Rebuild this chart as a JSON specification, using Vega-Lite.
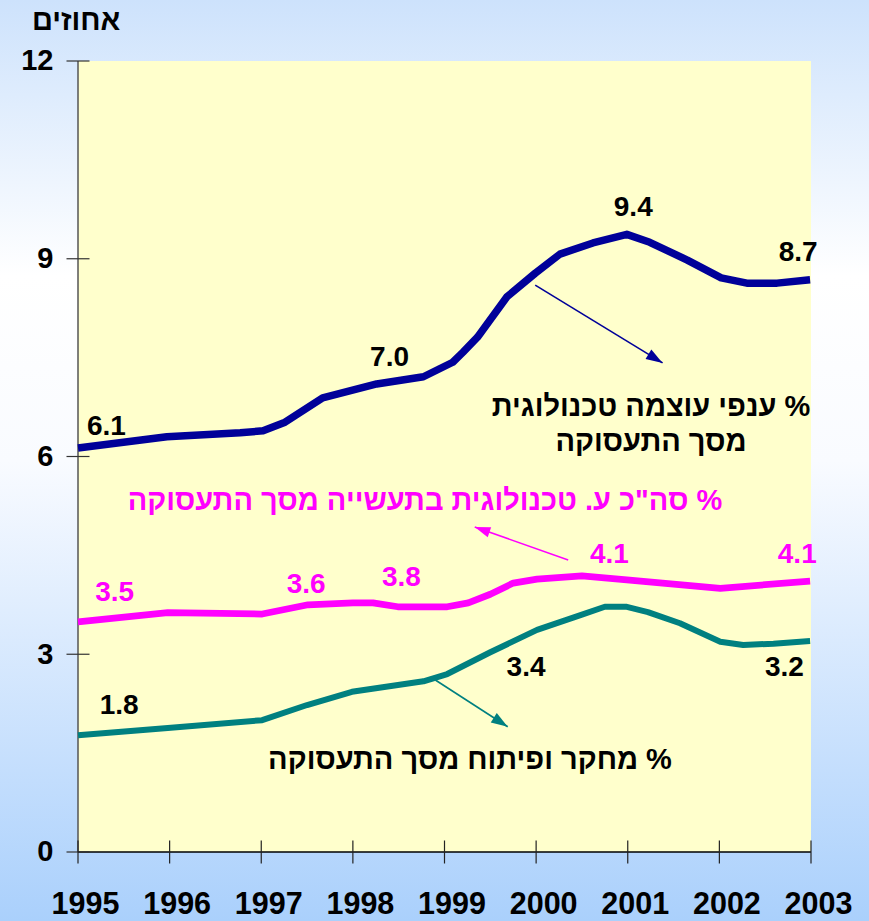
{
  "$schema": "https://vega.github.io/schema/vega-lite/v6.json",
  "width": 869,
  "height": 921,
  "autosize": "none",
  "padding": 0,
  "background": "#e6effd",
  "config": {"view": {"stroke": null}, "font": "Liberation Sans"},
  "datasets": {
    "one": [{"k": 1}],
    "series": [
      {"s": "tech", "x": 1995.00, "y": 6.13},
      {"s": "tech", "x": 1995.97, "y": 6.30},
      {"s": "tech", "x": 1996.77, "y": 6.36},
      {"s": "tech", "x": 1997.02, "y": 6.39},
      {"s": "tech", "x": 1997.26, "y": 6.52},
      {"s": "tech", "x": 1997.67, "y": 6.89},
      {"s": "tech", "x": 1998.26, "y": 7.10},
      {"s": "tech", "x": 1998.77, "y": 7.21},
      {"s": "tech", "x": 1999.09, "y": 7.43},
      {"s": "tech", "x": 1999.20, "y": 7.58},
      {"s": "tech", "x": 1999.36, "y": 7.81},
      {"s": "tech", "x": 1999.68, "y": 8.42},
      {"s": "tech", "x": 1999.99, "y": 8.78},
      {"s": "tech", "x": 2000.26, "y": 9.07},
      {"s": "tech", "x": 2000.62, "y": 9.24},
      {"s": "tech", "x": 2000.99, "y": 9.37},
      {"s": "tech", "x": 2001.24, "y": 9.25},
      {"s": "tech", "x": 2001.65, "y": 8.98},
      {"s": "tech", "x": 2002.02, "y": 8.71},
      {"s": "tech", "x": 2002.30, "y": 8.63},
      {"s": "tech", "x": 2002.63, "y": 8.63},
      {"s": "tech", "x": 2002.99, "y": 8.68},
      {"s": "total", "x": 1995.00, "y": 3.49},
      {"s": "total", "x": 1995.98, "y": 3.63},
      {"s": "total", "x": 1997.01, "y": 3.61},
      {"s": "total", "x": 1997.51, "y": 3.75},
      {"s": "total", "x": 1998.00, "y": 3.78},
      {"s": "total", "x": 1998.22, "y": 3.78},
      {"s": "total", "x": 1998.49, "y": 3.72},
      {"s": "total", "x": 1999.03, "y": 3.72},
      {"s": "total", "x": 1999.26, "y": 3.78},
      {"s": "total", "x": 1999.50, "y": 3.91},
      {"s": "total", "x": 1999.75, "y": 4.08},
      {"s": "total", "x": 2000.01, "y": 4.14},
      {"s": "total", "x": 2000.50, "y": 4.19},
      {"s": "total", "x": 2000.99, "y": 4.13},
      {"s": "total", "x": 2002.01, "y": 4.00},
      {"s": "total", "x": 2002.99, "y": 4.11},
      {"s": "rnd", "x": 1995.00, "y": 1.77},
      {"s": "rnd", "x": 1995.98, "y": 1.88},
      {"s": "rnd", "x": 1997.01, "y": 2.00},
      {"s": "rnd", "x": 1997.50, "y": 2.23},
      {"s": "rnd", "x": 1997.99, "y": 2.43},
      {"s": "rnd", "x": 1998.77, "y": 2.59},
      {"s": "rnd", "x": 1999.03, "y": 2.70},
      {"s": "rnd", "x": 1999.50, "y": 3.03},
      {"s": "rnd", "x": 2000.01, "y": 3.37},
      {"s": "rnd", "x": 2000.50, "y": 3.60},
      {"s": "rnd", "x": 2000.75, "y": 3.72},
      {"s": "rnd", "x": 2000.99, "y": 3.72},
      {"s": "rnd", "x": 2001.22, "y": 3.64},
      {"s": "rnd", "x": 2001.57, "y": 3.47},
      {"s": "rnd", "x": 2002.01, "y": 3.19},
      {"s": "rnd", "x": 2002.26, "y": 3.14},
      {"s": "rnd", "x": 2002.59, "y": 3.16},
      {"s": "rnd", "x": 2002.99, "y": 3.20}
    ],
    "arrows": [
      {"s": "tech", "x": 1999.99, "y": 8.60, "x2": 2001.38, "y2": 7.42},
      {"s": "total", "x": 2000.35, "y": 4.43, "x2": 1999.33, "y2": 4.93},
      {"s": "rnd", "x": 1998.90, "y": 2.61, "x2": 1999.69, "y2": 1.90}
    ],
    "labBlack": [
      {"t": "6.1", "x": 1995.31, "y": 6.45},
      {"t": "7.0", "x": 1998.40, "y": 7.49},
      {"t": "9.4", "x": 2001.06, "y": 9.77},
      {"t": "8.7", "x": 2002.86, "y": 9.09},
      {"t": "1.8", "x": 1995.45, "y": 2.21},
      {"t": "3.4", "x": 1999.89, "y": 2.79},
      {"t": "3.2", "x": 2002.71, "y": 2.79}
    ],
    "labMagenta": [
      {"t": "3.5", "x": 1995.40, "y": 3.93},
      {"t": "3.6", "x": 1997.49, "y": 4.05},
      {"t": "3.8", "x": 1998.53, "y": 4.16},
      {"t": "4.1", "x": 2000.80, "y": 4.51},
      {"t": "4.1", "x": 2002.85, "y": 4.51}
    ],
    "names": [
      {"s": "tech", "t": "ענפי עוצמה טכנולוגית %", "x": 2001.254, "y": 6.75},
      {"s": "tech", "t": "מסך התעסוקה", "x": 2001.254, "y": 6.22},
      {"s": "total", "t": "סה\"כ ע. טכנולוגית בתעשייה מסך התעסוקה %", "x": 1998.787, "y": 5.325},
      {"s": "rnd", "t": "מחקר ופיתוח מסך התעסוקה %", "x": 1999.278, "y": 1.396}
    ],
    "unit": [{"t": "אחוזים", "x": 1994.98, "y": 12.614}],
    "yt": [{"v": 0}, {"v": 3}, {"v": 6}, {"v": 9}, {"v": 12}],
    "xt": [{"v": 1995}, {"v": 1996}, {"v": 1997}, {"v": 1998}, {"v": 1999}, {"v": 2000}, {"v": 2001}, {"v": 2002}, {"v": 2003}]
  },
  "layer": [
    {
      "data": {"name": "one"},
      "mark": {
        "type": "rect",
        "color": {
          "gradient": "linear", "x1": 0, "y1": 0, "x2": 0, "y2": 1,
          "stops": [
            {"offset": 0, "color": "#cde2fc"},
            {"offset": 0.3, "color": "#ffffff"},
            {"offset": 0.5, "color": "#f9fbff"},
            {"offset": 1, "color": "#aad0fc"}
          ]
        }
      },
      "encoding": {}
    },
    {
      "data": {"name": "one"},
      "mark": {"type": "rect", "color": "#ffffcc"},
      "encoding": {
        "x": {"datum": 1995, "type": "quantitative"},
        "x2": {"datum": 2003},
        "y": {"datum": 0, "type": "quantitative"},
        "y2": {"datum": 12}
      }
    },
    {
      "data": {"name": "one"},
      "mark": {"type": "rule", "color": "#555555", "strokeWidth": 1.5},
      "encoding": {
        "x": {"datum": 1995, "type": "quantitative"},
        "y": {"datum": 0, "type": "quantitative"},
        "y2": {"datum": 12}
      }
    },
    {
      "data": {"name": "one"},
      "mark": {"type": "rule", "color": "#000000", "strokeWidth": 1.5},
      "encoding": {
        "x": {"datum": 1995, "type": "quantitative"},
        "x2": {"datum": 2003},
        "y": {"datum": 0, "type": "quantitative"}
      }
    },
    {
      "data": {"name": "yt"},
      "mark": {"type": "tick", "orient": "horizontal", "size": 23, "thickness": 1.2, "color": "#333333", "opacity": 1},
      "encoding": {
        "x": {"datum": 1995, "type": "quantitative"},
        "y": {"field": "v", "type": "quantitative"}
      }
    },
    {
      "data": {"name": "xt"},
      "mark": {"type": "tick", "orient": "vertical", "size": 23, "thickness": 1.2, "color": "#222222", "opacity": 1},
      "encoding": {
        "x": {"field": "v", "type": "quantitative"},
        "y": {"datum": 0, "type": "quantitative"}
      }
    },
    {
      "data": {"name": "series"},
      "mark": {"type": "line", "strokeJoin": "round", "strokeCap": "butt"},
      "encoding": {
        "x": {
          "field": "x", "type": "quantitative",
          "scale": {"domain": [1994.1487, 2003.633], "nice": false, "zero": false},
          "axis": {
            "orient": "bottom", "offset": -69, "domain": false, "ticks": false, "tickSize": 0, "grid": false, "zindex": 2,
            "values": [1995, 1996, 1997, 1998, 1999, 2000, 2001, 2002, 2003], "format": "d",
            "labelPadding": 61, "labelBaseline": "alphabetic", "labelFontSize": 30.5, "labelFontWeight": "bold",
            "labelColor": "#000000", "labelFont": "Liberation Sans", "labelFlush": false, "labelOverlap": false,
            "labelOffset": 7, "title": null
          }
        },
        "y": {
          "field": "y", "type": "quantitative",
          "scale": {"domain": [-1.0468, 12.9254], "nice": false, "zero": false},
          "axis": {
            "orient": "left", "offset": -78, "domain": false, "ticks": false, "tickSize": 0, "grid": false, "zindex": 2,
            "values": [0, 3, 6, 9, 12], "format": "d",
            "labelPadding": 25, "labelFontSize": 29, "labelFontWeight": "bold", "labelColor": "#000000",
            "labelFont": "Liberation Sans", "labelFlush": false, "labelOverlap": false, "labelBaseline": "middle",
            "title": null
          }
        },
        "detail": {"field": "s"},
        "color": {"field": "s", "type": "nominal", "scale": {"domain": ["tech", "total", "rnd"], "range": ["#000099", "#ff00ff", "#008080"]}, "legend": null},
        "strokeWidth": {"field": "s", "type": "nominal", "scale": {"domain": ["tech", "total", "rnd"], "range": [7.5, 6, 6.5]}, "legend": null}
      }
    },
    {
      "data": {"name": "arrows"},
      "mark": {"type": "rule", "strokeWidth": 1.6},
      "encoding": {
        "x": {"field": "x", "type": "quantitative"},
        "y": {"field": "y", "type": "quantitative"},
        "x2": {"field": "x2"},
        "y2": {"field": "y2"},
        "color": {"field": "s", "type": "nominal", "scale": {"domain": ["tech", "total", "rnd"], "range": ["#000099", "#ff00ff", "#008080"]}, "legend": null}
      }
    },
    {
      "data": {"name": "one"},
      "mark": {"type": "point", "shape": "M0,0L0.6,1.8L-0.6,1.8Z", "filled": true, "opacity": 1, "color": "#000099", "size": 340, "angle": 121.6},
      "encoding": {
        "x": {"datum": 2001.38, "type": "quantitative"},
        "y": {"datum": 7.42, "type": "quantitative"}
      }
    },
    {
      "data": {"name": "one"},
      "mark": {"type": "point", "shape": "M0,0L0.6,1.8L-0.6,1.8Z", "filled": true, "opacity": 1, "color": "#ff00ff", "size": 300, "angle": 289.5},
      "encoding": {
        "x": {"datum": 1999.33, "type": "quantitative"},
        "y": {"datum": 4.93, "type": "quantitative"}
      }
    },
    {
      "data": {"name": "one"},
      "mark": {"type": "point", "shape": "M0,0L0.6,1.8L-0.6,1.8Z", "filled": true, "opacity": 1, "color": "#008080", "size": 340, "angle": 122.8},
      "encoding": {
        "x": {"datum": 1999.69, "type": "quantitative"},
        "y": {"datum": 1.90, "type": "quantitative"}
      }
    },
    {
      "data": {"name": "labBlack"},
      "mark": {"type": "text", "fontSize": 28, "fontWeight": "bold", "color": "#000000", "align": "center", "baseline": "middle", "font": "Liberation Sans"},
      "encoding": {
        "x": {"field": "x", "type": "quantitative"},
        "y": {"field": "y", "type": "quantitative"},
        "text": {"field": "t"}
      }
    },
    {
      "data": {"name": "labMagenta"},
      "mark": {"type": "text", "fontSize": 28, "fontWeight": "bold", "color": "#ff00ff", "align": "center", "baseline": "middle", "font": "Liberation Sans"},
      "encoding": {
        "x": {"field": "x", "type": "quantitative"},
        "y": {"field": "y", "type": "quantitative"},
        "text": {"field": "t"}
      }
    },
    {
      "data": {"name": "names"},
      "mark": {"type": "text", "fontSize": 29, "fontWeight": "bold", "align": "center", "baseline": "middle", "font": "Liberation Sans"},
      "encoding": {
        "x": {"field": "x", "type": "quantitative"},
        "y": {"field": "y", "type": "quantitative"},
        "text": {"field": "t"},
        "color": {"field": "s", "type": "nominal", "scale": {"domain": ["tech", "total", "rnd"], "range": ["#000000", "#ff00ff", "#000000"]}, "legend": null}
      }
    },
    {
      "data": {"name": "unit"},
      "mark": {"type": "text", "fontSize": 29, "fontWeight": "bold", "color": "#000000", "align": "center", "baseline": "middle", "font": "Liberation Sans"},
      "encoding": {
        "x": {"field": "x", "type": "quantitative"},
        "y": {"field": "y", "type": "quantitative"},
        "text": {"field": "t"}
      }
    }
  ],
  "resolve": {"scale": {"color": "independent"}}
}
